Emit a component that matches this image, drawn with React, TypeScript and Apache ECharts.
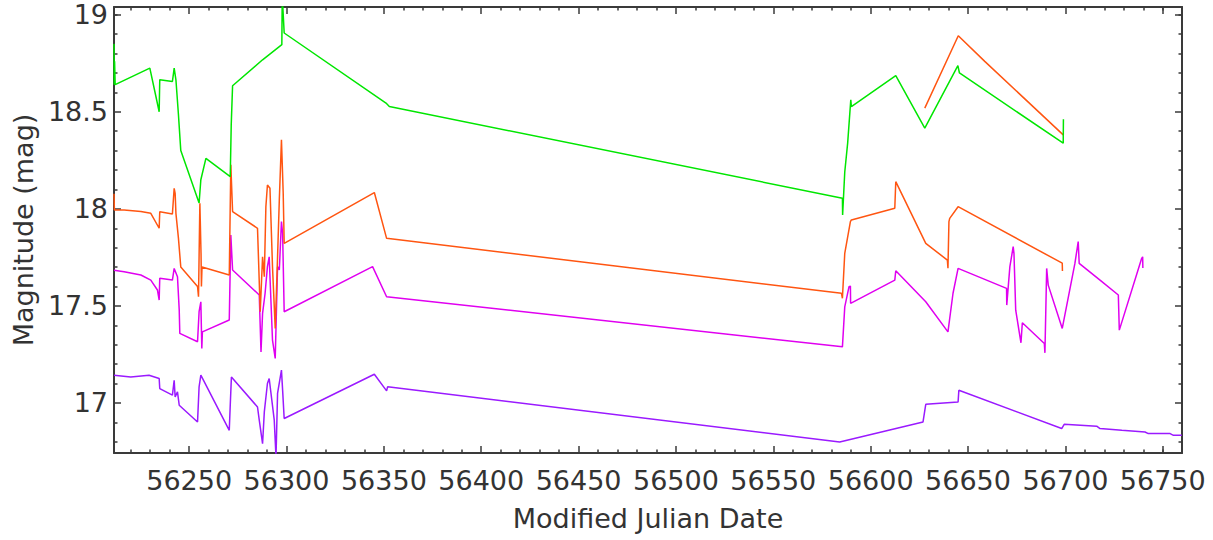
import React, { useEffect, useRef } from "react";
import * as echarts from "echarts";

const X_MIN = 56211.4;
const X_MAX = 56759.9;
const Y_MIN = 16.742;
const Y_MAX = 19.04;

const xMajorTicks = [56250, 56300, 56350, 56400, 56450, 56500, 56550, 56600, 56650, 56700, 56750];
const xMinorTicks = [56220, 56230, 56240, 56260, 56270, 56280, 56290, 56310, 56320, 56330, 56340, 56360, 56370, 56380, 56390, 56410, 56420, 56430, 56440, 56460, 56470, 56480, 56490, 56510, 56520, 56530, 56540, 56560, 56570, 56580, 56590, 56610, 56620, 56630, 56640, 56660, 56670, 56680, 56690, 56710, 56720, 56730, 56740, 56750];
const yMajorTicks = [17, 17.5, 18, 18.5, 19];
const yMinorTicks = [16.8, 16.9, 17.1, 17.2, 17.3, 17.4, 17.6, 17.7, 17.8, 17.9, 18.1, 18.2, 18.3, 18.4, 18.6, 18.7, 18.8, 18.9, 19.0];

const greenPoints = [
  [56211.4, 18.85], [56211.5, 18.64], [56211.7, 18.76], [56212.0, 18.64],
  [56229.8, 18.725], [56232.9, 18.58], [56234.6, 18.5], [56234.9, 18.665],
  [56241.4, 18.656], [56242.3, 18.725], [56243.2, 18.665], [56244.5, 18.485],
  [56245.7, 18.3], [56255.1, 18.03], [56256.0, 18.15], [56258.6, 18.26],
  [56271.1, 18.166], [56271.6, 18.43], [56272.3, 18.634], [56287.7, 18.768],
  [56297.6, 18.846], [56297.8, 19.1], [56298.8, 18.906], [56351.1, 18.545],
  [56352.8, 18.527], [56585.5, 18.055], [56585.6, 17.968], [56586.7, 18.19],
  [56588.2, 18.34], [56589.8, 18.562], [56590.1, 18.527], [56612.9, 18.686],
  [56627.8, 18.416], [56644.8, 18.738], [56645.6, 18.7], [56698.9, 18.338],
  [56699.0, 18.462],
];

const orangePoints = [
  [56211.4, 18.078], [56211.6, 17.994], [56216.6, 17.994], [56225.2, 17.986],
  [56230.3, 17.977], [56234.6, 17.9], [56234.9, 17.985], [56241.4, 17.974],
  [56242.3, 18.106], [56242.8, 18.08], [56243.2, 17.977], [56244.5, 17.848],
  [56245.7, 17.7], [56254.3, 17.6], [56254.8, 17.547], [56255.5, 18.029],
  [56256.1, 17.77], [56256.3, 17.6], [56256.6, 17.7], [56270.6, 17.659],
  [56271.4, 18.227], [56272.3, 17.986], [56285.1, 17.9], [56286.5, 17.47],
  [56287.7, 17.753], [56288.6, 17.65], [56289.4, 18.011], [56290.2, 18.123],
  [56291.5, 18.106], [56292.8, 17.702], [56294.2, 17.384], [56295.4, 17.753],
  [56296.3, 18.046], [56297.4, 18.356], [56298.3, 18.08], [56298.8, 17.822],
  [56345.1, 18.084], [56351.4, 17.848], [56585.0, 17.565], [56585.5, 17.539],
  [56586.7, 17.771], [56589.6, 17.934], [56590.1, 17.943], [56612.4, 18.003],
  [56612.9, 18.14], [56628.3, 17.822], [56639.4, 17.736], [56639.7, 17.694],
  [56640.2, 17.934], [56640.6, 17.951], [56644.9, 18.011], [56698.4, 17.72],
  [56698.5, 17.68],
];

const orangeUpperPoints = [
  [56627.8, 18.519], [56645.0, 18.892], [56658.6, 18.76], [56698.9, 18.381],
];

const magentaPoints = [
  [56211.4, 17.684], [56216.6, 17.676], [56225.2, 17.659], [56230.3, 17.633],
  [56233.7, 17.582], [56234.6, 17.53], [56234.9, 17.642], [56241.4, 17.633],
  [56242.3, 17.693], [56244.0, 17.65], [56244.9, 17.478], [56245.2, 17.358],
  [56254.3, 17.315], [56255.1, 17.47], [56256.0, 17.521], [56256.5, 17.281],
  [56256.8, 17.366], [56270.6, 17.427], [56271.4, 17.865], [56272.3, 17.685],
  [56286.0, 17.556], [56286.9, 17.263], [56287.7, 17.461], [56289.0, 17.565],
  [56290.2, 17.702], [56291.1, 17.753], [56292.8, 17.324], [56294.2, 17.229],
  [56295.4, 17.702], [56296.3, 17.685], [56297.4, 17.934], [56298.0, 17.874],
  [56298.8, 17.47], [56344.2, 17.702], [56351.4, 17.547], [56585.5, 17.289],
  [56586.7, 17.495], [56588.9, 17.599], [56589.6, 17.602], [56589.7, 17.513],
  [56612.4, 17.633], [56612.9, 17.681], [56628.3, 17.521], [56639.7, 17.366],
  [56642.3, 17.565], [56644.9, 17.693], [56669.8, 17.59], [56669.9, 17.504],
  [56671.5, 17.702], [56673.2, 17.805], [56673.6, 17.771], [56674.5, 17.478],
  [56677.2, 17.31], [56677.9, 17.413], [56689.2, 17.306], [56689.5, 17.258],
  [56690.4, 17.693], [56691.2, 17.607], [56698.4, 17.384], [56704.9, 17.719],
  [56706.6, 17.831], [56707.1, 17.719], [56717.8, 17.633], [56727.2, 17.556],
  [56727.7, 17.375], [56739.2, 17.745], [56739.7, 17.753], [56739.8, 17.695],
];

const purplePoints = [
  [56211.4, 17.143], [56220.0, 17.134], [56229.4, 17.143], [56234.6, 17.126],
  [56234.9, 17.074], [56241.4, 17.04], [56242.3, 17.117], [56242.8, 17.031],
  [56244.0, 17.057], [56244.9, 16.988], [56254.3, 16.902], [56255.1, 17.083],
  [56256.0, 17.143], [56270.6, 16.859], [56271.1, 16.988], [56271.7, 17.134],
  [56285.1, 16.979], [56286.0, 16.911], [56287.7, 16.79], [56288.6, 16.954],
  [56290.2, 17.1], [56291.1, 17.126], [56293.7, 16.911], [56294.6, 16.72],
  [56295.4, 17.049], [56297.4, 17.169], [56298.0, 17.066], [56298.8, 16.92],
  [56345.1, 17.148], [56351.4, 17.062], [56351.9, 17.083], [56584.1, 16.799],
  [56626.9, 16.902], [56628.3, 16.993], [56644.9, 17.005], [56645.3, 17.065],
  [56698.1, 16.868], [56699.4, 16.89], [56716.1, 16.88], [56717.8, 16.868],
  [56729.0, 16.859], [56740.9, 16.85], [56742.6, 16.842], [56753.8, 16.842],
  [56755.5, 16.833], [56759.8, 16.833],
];

const FONT = "DejaVu Sans";
const AXIS_COLOR = "#3a3a3a";
const TEXT_COLOR = "#333333";

function makeX(position: string, ticks: number[], len: number, labels: boolean, showLine: boolean): any {
  return {
    type: "value",
    position,
    min: X_MIN,
    max: X_MAX,
    splitLine: { show: false },
    axisLine: { show: showLine, onZero: false, lineStyle: { color: AXIS_COLOR, width: 2 } },
    axisTick: { show: true, inside: true, length: len, customValues: ticks, lineStyle: { color: AXIS_COLOR, width: 1.5 } },
    axisLabel: labels
      ? {
          show: true,
          customValues: xMajorTicks,
          fontFamily: FONT,
          fontSize: 27,
          color: TEXT_COLOR,
          margin: 14,
          formatter: (v: number) => String(v),
        }
      : { show: false },
  };
}

function makeY(position: string, ticks: number[], len: number, labels: boolean, showLine: boolean): any {
  return {
    type: "value",
    position,
    min: Y_MIN,
    max: Y_MAX,
    splitLine: { show: false },
    axisLine: { show: showLine, onZero: false, lineStyle: { color: AXIS_COLOR, width: 2 } },
    axisTick: { show: true, inside: true, length: len, customValues: ticks, lineStyle: { color: AXIS_COLOR, width: 1.5 } },
    axisLabel: labels
      ? {
          show: true,
          customValues: yMajorTicks,
          fontFamily: FONT,
          fontSize: 27,
          color: TEXT_COLOR,
          margin: 6,
          formatter: (v: number) => String(v),
        }
      : { show: false },
  };
}

function lineSeries(name: string, data: number[][], color: string): any {
  return {
    type: "line",
    name,
    data,
    xAxisIndex: 0,
    yAxisIndex: 0,
    showSymbol: false,
    symbol: "none",
    clip: true,
    lineStyle: { color, width: 1.5 },
    itemStyle: { color },
  };
}

export default function App() {
  const ref = useRef<HTMLDivElement>(null);
  useEffect(() => {
    if (!ref.current) return;
    const chart = echarts.init(ref.current, undefined, { renderer: "svg" });
    const xMain = makeX("bottom", xMajorTicks, 7, true, true);
    xMain.name = "Modified Julian Date";
    xMain.nameLocation = "middle";
    xMain.nameGap = 52;
    xMain.nameTextStyle = { fontFamily: FONT, fontSize: 27, color: TEXT_COLOR };
    const yMain = makeY("left", yMajorTicks, 7, true, true);
    yMain.name = "Magnitude (mag)";
    yMain.nameLocation = "middle";
    yMain.nameGap = 72;
    yMain.nameTextStyle = { fontFamily: FONT, fontSize: 27, color: TEXT_COLOR };
    chart.setOption({
      animation: false,
      backgroundColor: "#ffffff",
      grid: { left: 114, right: 31, top: 7, bottom: 87, containLabel: false },
      xAxis: [
        xMain,
        makeX("bottom", xMinorTicks, 3.5, false, false),
        makeX("top", xMajorTicks, 7, false, true),
        makeX("top", xMinorTicks, 3.5, false, false),
      ],
      yAxis: [
        yMain,
        makeY("left", yMinorTicks, 3.5, false, false),
        makeY("right", yMajorTicks, 7, false, true),
        makeY("right", yMinorTicks, 3.5, false, false),
      ],
      series: [
        lineSeries("purple", purplePoints, "#9a1aff"),
        lineSeries("magenta", magentaPoints, "#e000f0"),
        lineSeries("orange", orangePoints, "#ff5511"),
        lineSeries("orangeUpper", orangeUpperPoints, "#ff5511"),
        lineSeries("green", greenPoints, "#00e600"),
      ],
    });
    return () => chart.dispose();
  }, []);
  return (
    <div
      ref={ref}
      style={{ position: "absolute", left: 0, top: 0, width: 1213, height: 540 }}
    />
  );
}
